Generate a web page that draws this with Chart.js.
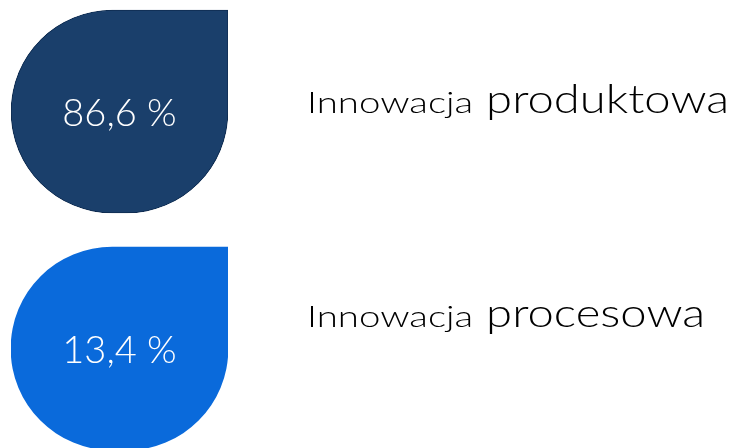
<!DOCTYPE html>
<html>
<head>
<meta charset="utf-8">
<script src="https://cdn.jsdelivr.net/npm/chart.js@4.4.1/dist/chart.umd.min.js"></script>
<style>
  html, body { margin: 0; padding: 0; background: #ffffff; }
  #wrap { width: 736px; height: 448px; position: relative; }
</style>
</head>
<body>
<div id="wrap"><canvas id="c" width="736" height="448"></canvas></div>
<script>
// ---- data ----
const categories = ['Innowacja produktowa', 'Innowacja procesowa'];
const labelLead = ['Innowacja', 'Innowacja'];
const labelMain = ['produktowa', 'procesowa'];
const shares = [86.6, 13.4];                 // % share per innovation type
const valueLabels = shares.map(v => v.toFixed(1).replace('.', ',') + ' %');
const containerFull = [100, 100];            // each drop is a full 100 % container

// ---- styles ----
const dropColors = ['#1a3f6b', '#0a6adb'];
const dropBorders = ['#0f2c50', '#0a6adb'];
const FONT = '"Century Gothic", "Lato", "Open Sans", sans-serif';

const textPlugin = {
  id: 'dropText',
  afterDatasetsDraw(chart) {
    const ctx = chart.ctx;
    const meta = chart.getDatasetMeta(0);
    const labelX = 307;
    const baselineOffset = [1, -21.5];
    const leadScale = 1.28, mainScale = 1.18;
    meta.data.forEach((el, i) => {
      const cx = (el.x + el.base) / 2;
      const cy = el.y;
      ctx.save();
      ctx.fillStyle = '#ffffff';
      ctx.textAlign = 'center';
      ctx.textBaseline = 'middle';
      ctx.font = '300 38px ' + FONT;
      ctx.fillText(valueLabels[i], cx, cy + 2);
      ctx.restore();

      const by = cy + baselineOffset[i];
      ctx.save();
      ctx.fillStyle = '#000000';
      ctx.textAlign = 'left';
      ctx.textBaseline = 'alphabetic';
      ctx.font = '300 30px ' + FONT;
      const wLead = ctx.measureText(labelLead[i]).width * leadScale;
      ctx.translate(labelX, by);
      ctx.scale(leadScale, 1);
      ctx.fillText(labelLead[i], 0, 0);
      ctx.restore();

      ctx.save();
      ctx.fillStyle = '#000000';
      ctx.textAlign = 'left';
      ctx.textBaseline = 'alphabetic';
      ctx.font = '300 40px ' + FONT;
      ctx.translate(labelX + wLead + 13, by);
      ctx.scale(mainScale, 1);
      ctx.fillText(labelMain[i], 0, 0);
      ctx.restore();
    });
  }
};

new Chart(document.getElementById('c'), {
  type: 'bar',
  data: {
    datasets: [{
      label: 'Udział',
      data: containerFull.map((v, i) => ({ x: v, y: i })),
      backgroundColor: dropColors,
      borderColor: dropBorders,
      borderWidth: [1, 0],
      borderSkipped: false,
      barThickness: 203,
      borderRadius: { topLeft: 200, bottomLeft: 200, bottomRight: 200, topRight: 0 }
    }]
  },
  options: {
    indexAxis: 'y',
    responsive: false,
    animation: false,
    layout: { padding: { left: 11, right: 508, top: 0, bottom: 0 } },
    scales: {
      x: { type: 'linear', min: 0, max: 100, display: false },
      y: { type: 'linear', min: -0.4705, max: 1.4198, reverse: true, offset: false, display: false }
    },
    plugins: { legend: { display: false }, tooltip: { enabled: false } }
  },
  plugins: [textPlugin]
});
</script>
</body>
</html>
